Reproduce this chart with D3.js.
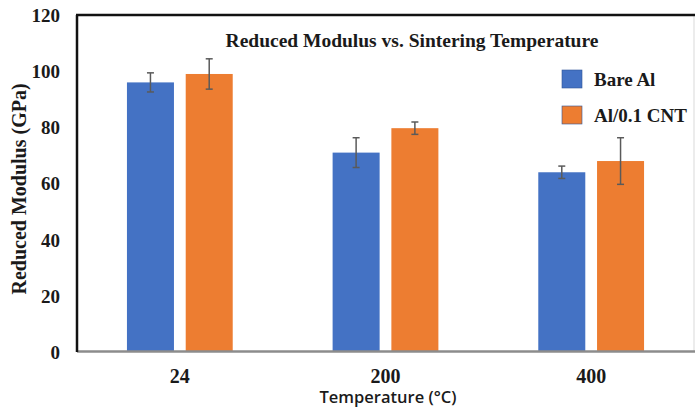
<!DOCTYPE html>
<html>
<head>
<meta charset="utf-8">
<script src="https://cdn.jsdelivr.net/npm/d3@7"></script>
<style>
  html, body { margin: 0; padding: 0; background: #fff; }
  svg { display: block; }
  .serif { font-family: "Liberation Serif", "Times New Roman", serif; font-weight: bold; fill: #1a1a1a; }
</style>
</head>
<body>
<div id="chart"></div>
<script>
const temps = ["24", "200", "400"];
const seriesNames = ["Bare Al", "Al/0.1 CNT"];
const bareAl = [96, 71, 64];
const bareAlErr = [3.4, 5.3, 2.2];
const alCnt = [99, 79.7, 68];
const alCntErr = [5.4, 2.2, 8.3];
const yTicks = [0, 20, 40, 60, 80, 100, 120];
const colors = ["#4472C4", "#ED7D31"];

const W = 695, H = 407;
const plot = { left: 77, right: 694, top: 15, bottom: 352 };

const svg = d3.select("#chart").append("svg")
  .attr("width", W).attr("height", H);

const x0 = d3.scaleBand().domain(temps).range([plot.left, plot.right]).padding(0);
const x1 = d3.scaleBand().domain(seriesNames).range([0, x0.bandwidth()])
  .paddingInner(0.2).paddingOuter(0.85);
const y = d3.scaleLinear().domain([0, 120]).range([plot.bottom, plot.top]);

// y axis labels
const yAxis = svg.append("g")
  .attr("transform", `translate(${plot.left - 17},0)`)
  .call(d3.axisLeft(y).tickValues(yTicks).tickSize(0).tickPadding(0));
yAxis.select(".domain").remove();
yAxis.selectAll("text")
  .attr("class", "serif")
  .style("font-size", "19px")
  .attr("dy", "0.34em");

// bars
const rows = temps.map((t, i) => ({
  temp: t,
  vals: [
    { name: seriesNames[0], v: bareAl[i], e: bareAlErr[i], c: colors[0] },
    { name: seriesNames[1], v: alCnt[i], e: alCntErr[i], c: colors[1] }
  ]
}));

const groups = svg.selectAll(".grp").data(rows).enter().append("g")
  .attr("class", "grp")
  .attr("transform", d => `translate(${x0(d.temp)},0)`);

groups.selectAll("rect").data(d => d.vals).enter().append("rect")
  .attr("x", d => x1(d.name))
  .attr("width", x1.bandwidth())
  .attr("y", d => y(d.v))
  .attr("height", d => y(0) - y(d.v))
  .attr("fill", d => d.c);

// error bars
const eb = groups.selectAll(".err").data(d => d.vals).enter().append("g")
  .attr("class", "err")
  .attr("stroke", "#5a5a5a")
  .attr("stroke-width", 1.5);
eb.append("line")
  .attr("x1", d => x1(d.name) + x1.bandwidth() / 2)
  .attr("x2", d => x1(d.name) + x1.bandwidth() / 2)
  .attr("y1", d => y(d.v + d.e))
  .attr("y2", d => y(d.v - d.e));
[1, -1].forEach(s => {
  eb.append("line")
    .attr("x1", d => x1(d.name) + x1.bandwidth() / 2 - 3.5)
    .attr("x2", d => x1(d.name) + x1.bandwidth() / 2 + 3.5)
    .attr("y1", d => y(d.v + s * d.e))
    .attr("y2", d => y(d.v + s * d.e));
});

// frame
svg.append("line").attr("x1", plot.right).attr("x2", plot.right)
  .attr("y1", plot.top).attr("y2", plot.bottom)
  .attr("stroke", "#d9d9d9").attr("stroke-width", 1);
svg.append("line").attr("x1", plot.left).attr("x2", plot.right + 1)
  .attr("y1", plot.bottom - 0.5).attr("y2", plot.bottom - 0.5)
  .attr("stroke", "#8c8c8c").attr("stroke-width", 2.5);
svg.append("line").attr("x1", plot.left - 1).attr("x2", plot.right + 1)
  .attr("y1", plot.top).attr("y2", plot.top)
  .attr("stroke", "#111").attr("stroke-width", 2.5);
svg.append("line").attr("x1", plot.left).attr("x2", plot.left)
  .attr("y1", plot.top).attr("y2", plot.bottom)
  .attr("stroke", "#111").attr("stroke-width", 2.5);

// x axis labels
const xAxis = svg.append("g")
  .attr("transform", `translate(0,${plot.bottom})`)
  .call(d3.axisBottom(x0).tickSize(0).tickPadding(0));
xAxis.select(".domain").remove();
xAxis.selectAll("text")
  .attr("class", "serif")
  .style("font-size", "20px")
  .attr("y", 31)
  .attr("dy", 0);

// title
svg.append("text").attr("class", "serif")
  .attr("x", 412).attr("y", 47)
  .attr("text-anchor", "middle")
  .style("font-size", "19.5px")
  .text("Reduced Modulus vs. Sintering Temperature");

// axis titles
svg.append("text")
  .attr("x", 388).attr("y", 403)
  .attr("text-anchor", "middle")
  .style("font-family", "'Open Sans', sans-serif")
  .style("font-weight", 600)
  .style("font-size", "16.5px")
  .style("fill", "#1a1a1a")
  .text("Temperature (\u00B0C)");

svg.append("text").attr("class", "serif")
  .attr("transform", "translate(26,189) rotate(-90)")
  .attr("text-anchor", "middle")
  .style("font-size", "20px")
  .text("Reduced Modulus (GPa)");

// legend
const legend = svg.append("g");
seriesNames.forEach((n, i) => {
  const ly = [70, 106][i];
  legend.append("rect")
    .attr("x", 562).attr("y", ly)
    .attr("width", 20).attr("height", 18)
    .attr("fill", colors[i])
    .attr("stroke", "#2f5597").attr("stroke-width", 0.6);
  legend.append("text").attr("class", "serif")
    .attr("x", 594).attr("y", ly + 16)
    .style("font-size", "19px")
    .text(n);
});
</script>
</body>
</html>
